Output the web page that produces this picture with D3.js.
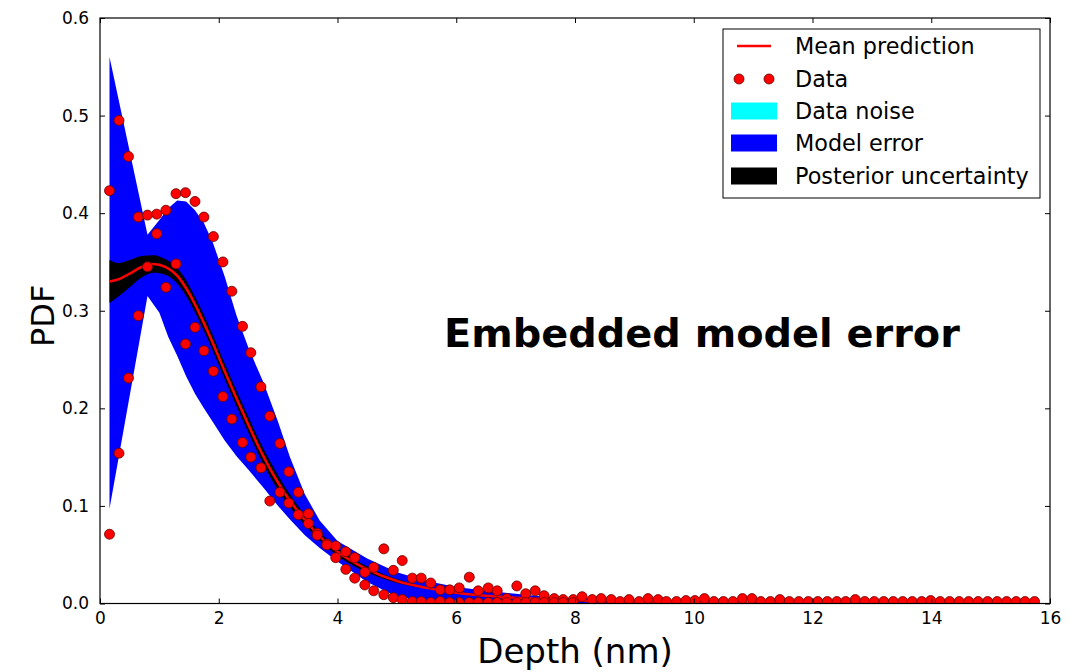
<!DOCTYPE html>
<html><head><meta charset="utf-8">
<script src="https://cdn.jsdelivr.net/npm/d3@7"></script>
<style>
body{margin:0;background:#fff}
text{font-family:"DejaVu Sans",sans-serif}
</style>
</head><body>
<svg id="c" width="1079" height="672"></svg>
<script>
// ---------------- data ----------------
const xTicks = [0, 2, 4, 6, 8, 10, 12, 14, 16];
const yTicks = [0.0, 0.1, 0.2, 0.3, 0.4, 0.5, 0.6];

// observed data (depth in nm)
const dataDepth = [0.16,0.32,0.48,0.645,0.80,0.955,1.11,1.28,1.44,1.60,1.75,1.91,2.07,2.22,2.40,2.54,2.71,2.86,3.03,3.18,
  3.34,3.51,3.66,3.82,3.97,4.14,4.29,4.46,4.61,4.78,4.94,5.09,5.26,5.41,5.57,5.73,5.89,6.05,6.22,6.37,
  6.54,6.69,6.85,7.02,7.17,7.33,7.48,7.65,7.80,7.97,8.12,8.29,8.44,8.61,8.76,8.91,9.08,9.23,9.40,9.54,
  9.71,9.87,10.02,10.18,10.34,10.50,10.66,10.82,10.98,11.13,11.29,11.45,11.61,11.77,11.93,12.09,12.25,12.41,12.56,12.72,
  12.88,13.04,13.20,13.36,13.52,13.68,13.84,13.99,14.15,14.31,14.47,14.63,14.79,14.95,15.11,15.27,15.43,15.58,15.74];
const dataPdfA = [0.423,0.495,0.458,0.396,0.398,0.399,0.403,0.420,0.421,0.412,0.396,0.376,0.350,0.320,0.284,0.257,0.222,0.192,0.164,0.135,
  0.114,0.092,0.072,0.061,0.059,0.053,0.047,0.032,0.037,0.056,0.034,0.044,0.026,0.026,0.021,0.014,0.014,0.016,0.027,0.013,
  0.016,0.013,0.005,0.018,0.010,0.013,0.008,0.005,0.004,0.004,0.007,0.004,0.005,0.004,0.002,0.004,0.002,0.005,0.004,0.002,
  0.002,0.003,0.003,0.005,0.002,0.002,0.002,0.005,0.005,0.002,0.002,0.004,0.002,0.002,0.002,0.002,0.002,0.002,0.002,0.004,
  0.002,0.002,0.002,0.002,0.002,0.002,0.002,0.003,0.002,0.002,0.002,0.002,0.002,0.002,0.002,0.002,0.002,0.002,0.002];
const dataPdfB = [0.071,0.154,0.231,0.295,0.345,0.379,0.324,0.348,0.266,0.283,0.259,0.238,0.212,0.189,0.165,0.150,0.139,0.105,0.114,0.103,
  0.091,0.082,0.070,0.060,0.047,0.035,0.026,0.019,0.013,0.009,0.006,0.004,0.002,0.002,0.001,0.002,0.001,0.001,0.001,0.001,
  0.001,0.001,0.001,0.001,0.001,0.001,0.001,0.001,0.001,0.001];

// model curves
const bandDepth = [0.16,0.8,1.0,1.15,1.3,1.45,1.6,1.75,1.9,2.1,2.3,2.5,2.75,3.0,3.2,3.45,3.7,4.0,4.5,5.0,5.5,6.0,6.5,7.0,7.5,8.0,9.0,10.0,12.0,15.8];
const modelErrUpper = [0.560,0.378,0.393,0.405,0.413,0.412,0.403,0.390,0.370,0.335,0.295,0.262,0.227,0.186,0.150,0.112,0.085,0.064,0.046,0.032,0.023,0.017,0.013,0.010,0.007,0.005,0.003,0.0015,0.0008,0.0003];
const modelErrLower = [0.097,0.315,0.298,0.273,0.254,0.233,0.215,0.200,0.186,0.167,0.151,0.137,0.119,0.100,0.086,0.070,0.057,0.043,0.022,0.007,0.003,0.002,0.001,0.0008,0.0006,0.0005,0.0003,0.0002,0.0001,0.0001];

const meanDepth = [0.16,0.3,0.5,0.7,0.9,1.1,1.3,1.5,1.7,1.9,2.1,2.3,2.5,2.7,2.9,3.1,3.3,3.5,3.75,4.0,4.5,5.0,5.5,6.0,6.5,7.0,7.5,8.0,9.0,10.0,12.0,15.8];
const meanPdf = [0.330,0.332,0.338,0.345,0.348,0.345,0.336,0.318,0.294,0.267,0.238,0.210,0.183,0.157,0.134,0.114,0.097,0.082,0.066,0.053,0.035,0.023,0.016,0.011,0.008,0.006,0.0045,0.003,0.0015,0.0008,0.0003,0.0001];
const postUpper = [0.352,0.349,0.352,0.356,0.357,0.353,0.344,0.326,0.302,0.275,0.246,0.218,0.191,0.165,0.142,0.121,0.103,0.087,0.070,0.057,0.038,0.025,0.017,0.012,0.009,0.0065,0.005,0.0035,0.002,0.001,0.0004,0.0002];
const postLower = [0.308,0.314,0.324,0.334,0.339,0.337,0.328,0.310,0.286,0.259,0.230,0.202,0.175,0.149,0.126,0.107,0.091,0.077,0.062,0.049,0.032,0.021,0.015,0.010,0.007,0.0055,0.004,0.0025,0.001,0.0006,0.0002,0.0000];

const legendLabels = ["Mean prediction","Data","Data noise","Model error","Posterior uncertainty"];
const titleText = "Embedded model error";

// ---------------- drawing ----------------
const svg = d3.select("#c");
const L = 100, R = 1050, T = 18, B = 603.5;
const x = d3.scaleLinear().domain([0,16]).range([L,R]);
const y = d3.scaleLinear().domain([0,0.6]).range([B,T]);

svg.append("defs").append("clipPath").attr("id","clip")
  .append("rect").attr("x",L).attr("y",T).attr("width",R-L).attr("height",B-T);

const plot = svg.append("g").attr("clip-path","url(#clip)");

const bandArea = d3.area().x((d,i)=>x(bandDepth[i])).y0((d,i)=>y(modelErrLower[i])).y1((d,i)=>y(modelErrUpper[i]));
plot.append("path").datum(bandDepth).attr("d",bandArea).attr("fill","#0000ff");

const postArea = d3.area().x((d,i)=>x(meanDepth[i])).y0((d,i)=>y(postLower[i])).y1((d,i)=>y(postUpper[i])).curve(d3.curveMonotoneX);
plot.append("path").datum(meanDepth).attr("d",postArea).attr("fill","#000");

const meanLine = d3.line().x((d,i)=>x(meanDepth[i])).y((d,i)=>y(meanPdf[i])).curve(d3.curveMonotoneX);
plot.append("path").datum(meanDepth).attr("d",meanLine).attr("fill","none").attr("stroke","#ff0000").attr("stroke-width",2.5);

const pts = [];
dataPdfA.forEach((v,i)=>pts.push([dataDepth[i],v]));
dataPdfB.forEach((v,i)=>pts.push([dataDepth[i],v]));
plot.selectAll("circle.pt").data(pts).join("circle").attr("class","pt")
  .attr("cx",d=>x(d[0])).attr("cy",d=>y(d[1])).attr("r",5)
  .attr("fill","#ff0000").attr("stroke","#600").attr("stroke-width",0.8);

// axes
function styleAxis(g){
  g.select(".domain").remove();
  g.selectAll(".tick line").attr("stroke","#000");
  g.selectAll("text").attr("font-size",17).attr("font-family","DejaVu Sans").attr("fill","#000");
}
svg.append("g").attr("transform",`translate(0,${B})`)
  .call(d3.axisBottom(x).tickValues(xTicks).tickFormat(d3.format("d")).tickSizeInner(-5).tickSizeOuter(0).tickPadding(8))
  .call(styleAxis);
svg.append("g").attr("transform",`translate(${L},0)`)
  .call(d3.axisLeft(y).tickValues(yTicks).tickFormat(d3.format(".1f")).tickSizeInner(-5).tickSizeOuter(0).tickPadding(11))
  .call(styleAxis);
svg.append("g").attr("transform",`translate(0,${T})`)
  .call(d3.axisTop(x).tickValues(xTicks).tickFormat("").tickSizeInner(-5).tickSizeOuter(0))
  .call(styleAxis);
svg.append("g").attr("transform",`translate(${R},0)`)
  .call(d3.axisRight(y).tickValues(yTicks).tickFormat("").tickSizeInner(-5).tickSizeOuter(0))
  .call(styleAxis);
svg.append("rect").attr("x",L).attr("y",T).attr("width",R-L).attr("height",B-T)
  .attr("fill","none").attr("stroke","#000").attr("stroke-width",1.2);

// axis labels
svg.append("text").attr("x",(L+R)/2).attr("y",663).attr("text-anchor","middle")
  .attr("font-size",34).text("Depth (nm)");
svg.append("text").attr("transform",`translate(54,${(T+B)/2+5}) rotate(-90)`).attr("text-anchor","middle")
  .attr("font-size",32).text("PDF");

// title annotation: fit its natural width to the reference span
const title = svg.append("text").attr("x",444).attr("y",347).attr("font-family","Lato").attr("font-weight","bold")
  .attr("font-size",48).text(titleText);
const tw = title.node().getComputedTextLength();
title.attr("font-size", 48*516/tw);

// legend
const lg = svg.append("g");
lg.append("rect").attr("x",723).attr("y",29).attr("width",317).attr("height",169)
  .attr("fill","#fff").attr("stroke","#000").attr("stroke-width",1);
const rowY = [46,79,111,143,176];
legendLabels.forEach((t,i)=>{
  lg.append("text").attr("x",795).attr("y",rowY[i]).attr("dominant-baseline","central")
    .attr("font-size",22.3).text(t);
});
lg.append("line").attr("x1",737).attr("x2",771).attr("y1",rowY[0]).attr("y2",rowY[0]).attr("stroke","#ff0000").attr("stroke-width",2.5);
[739,769].forEach(cx=>lg.append("circle").attr("cx",cx).attr("cy",rowY[1]).attr("r",5).attr("fill","#ff0000").attr("stroke","#600").attr("stroke-width",0.8));
[["#00ffff",2],["#0000ff",3],["#000000",4]].forEach(([c,i])=>{
  lg.append("rect").attr("x",731).attr("y",rowY[i]-8.5).attr("width",46).attr("height",17).attr("fill",c);
});
</script>
</body></html>
